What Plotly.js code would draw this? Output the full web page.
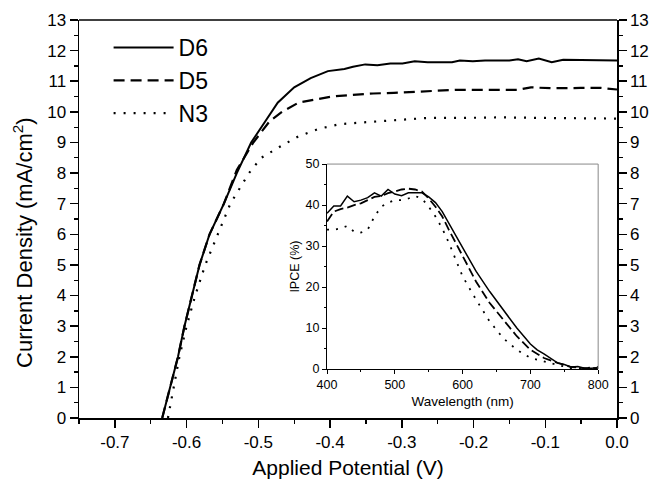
<!DOCTYPE html>
<html>
<head>
<meta charset="utf-8">
<script src="https://cdn.plot.ly/plotly-3.0.1.min.js"></script>
<style>html,body{margin:0;padding:0;background:#fff;}#chart{width:650px;height:485px;}</style>
</head>
<body>
<div id="chart"></div>
<script>
// Main J-V curves
const d6V = [-0.634,-0.623,-0.612,-0.603,-0.593,-0.582,-0.568,-0.548,-0.530,-0.510,-0.490,-0.473,-0.450,-0.427,-0.403,-0.380,-0.368,-0.351,-0.334,-0.316,-0.299,-0.282,-0.264,-0.247,-0.230,-0.219,-0.201,-0.184,-0.167,-0.150,-0.138,-0.126,-0.109,-0.091,-0.075,-0.058,-0.040,-0.020,0.000];
const d6J = [0,1,2,3,4,5,6,7,8,9,9.7,10.3,10.8,11.1,11.33,11.4,11.47,11.55,11.52,11.58,11.58,11.65,11.62,11.62,11.62,11.68,11.65,11.68,11.68,11.68,11.72,11.65,11.74,11.62,11.70,11.70,11.70,11.69,11.68];

const d5V = [-0.634,-0.623,-0.612,-0.603,-0.593,-0.582,-0.568,-0.548,-0.530,-0.507,-0.484,-0.467,-0.444,-0.421,-0.398,-0.369,-0.340,-0.311,-0.282,-0.253,-0.224,-0.195,-0.166,-0.138,-0.120,-0.091,-0.051,-0.022,0.000];
const d5J = [0,1,2,3,4,5,6,7,8.1,9.0,9.7,10.0,10.3,10.4,10.5,10.55,10.6,10.62,10.65,10.7,10.72,10.72,10.72,10.72,10.8,10.77,10.78,10.78,10.73];

const n3V = [-0.626,-0.618,-0.610,-0.600,-0.588,-0.574,-0.556,-0.539,-0.513,-0.496,-0.467,-0.444,-0.415,-0.386,-0.357,-0.311,-0.282,-0.265,-0.220,-0.160,-0.100,-0.050,0.000];
const n3J = [0,1,2,3,4,5,6,7,8,8.5,8.9,9.2,9.45,9.6,9.65,9.72,9.75,9.8,9.8,9.82,9.8,9.8,9.78];

// Inset IPCE
const wlD6 = [400,410,420,430,440,450,460,470,480,490,500,510,520,530,540,550,560,570,580,590,600,620,640,660,680,700,710,720,730,740,750,760,770,780,790,800];
const ipceD6 = [38,39.8,39.8,42.2,40.8,41.2,41.8,43,42.2,43.8,42.7,42.3,43,43,43,42,40.6,38.4,35.5,32.5,29.5,23.8,18.9,14.4,10,6.1,4.7,3.7,2.7,1.5,1.1,0.5,0.6,0.2,0.2,0.3];
const wlD5 = [400,410,420,430,440,450,460,470,480,490,500,510,520,530,540,550,560,570,580,600,620,640,660,680,700,720,740,760,780,800];
const ipceD5 = [36,38.4,39,39.4,40,40.4,41.2,42,42.2,42.9,43.3,43.8,44,43.8,43.3,41.6,39.6,37.2,33.9,27.4,21.3,16.1,12,8,4.7,2.7,1.5,0.5,0.2,0.2];
const wlN3 = [400,410,420,430,440,450,460,470,480,490,500,510,520,530,540,550,560,570,580,590,600,620,640,660,680,700,720,740,760,780,800];
const ipceN3 = [34,34,34.3,34.9,33.5,33.3,34,37.2,39.6,40.6,41.2,41.2,41.6,42.2,41.6,39.6,37.2,34.3,30.7,26.6,22.6,16.9,11.6,7.5,4.7,2.7,1.9,1.1,0.2,0.2,0.5];

const names = ['D6','D5','N3'];
const yTicks = [0,1,2,3,4,5,6,7,8,9,10,11,12,13];
const xTicks = [-0.7,-0.6,-0.5,-0.4,-0.3,-0.2,-0.1,0.0];
const xTickText = ['-0.7','-0.6','-0.5','-0.4','-0.3','-0.2','-0.1','0.0'];
const insetXTicks = [400,500,600,700,800];
const insetYTicks = [0,10,20,30,40,50];

const FONT = 'Arial, "Liberation Sans", sans-serif';

const traces = [
  {x:d6V, y:d6J, name:names[0], mode:'lines', line:{color:'#000', width:2, dash:'solid'}, xaxis:'x', yaxis:'y'},
  {x:d5V, y:d5J, name:names[1], mode:'lines', line:{color:'#000', width:2.2, dash:'11px,6px'}, xaxis:'x', yaxis:'y'},
  {x:n3V, y:n3J, name:names[2], mode:'lines', line:{color:'#000', width:2.2, dash:'2px,8px'}, xaxis:'x', yaxis:'y'},
  {x:wlD6, y:ipceD6, name:names[0], showlegend:false, mode:'lines', line:{color:'#000', width:1.5}, xaxis:'x2', yaxis:'y2'},
  {x:wlD5, y:ipceD5, name:names[1], showlegend:false, mode:'lines', line:{color:'#000', width:1.8, dash:'9px,4px'}, xaxis:'x2', yaxis:'y2'},
  {x:wlN3, y:ipceN3, name:names[2], showlegend:false, mode:'lines', line:{color:'#000', width:1.8, dash:'2px,7px'}, xaxis:'x2', yaxis:'y2'},
  {x:[-0.75], y:[0], mode:'markers', marker:{opacity:0}, showlegend:false, hoverinfo:'skip', xaxis:'x', yaxis:'y3'}
];

const tickFont = {family:FONT, size:17, color:'#000'};
const minorY = {dtick:0.5, tick0:0, ticks:'outside', ticklen:4, tickwidth:1.3, tickcolor:'#000', showgrid:false};

const layout = {
  width:650, height:485,
  margin:{l:79, r:33, t:20, b:67},
  paper_bgcolor:'#fff', plot_bgcolor:'#fff',
  font:{family:FONT, color:'#000'},
  showlegend:true,
  legend:{x:0.055, y:0.985, xanchor:'left', yanchor:'top', bgcolor:'rgba(0,0,0,0)',
          font:{family:FONT, size:23, color:'#000'}, itemwidth:60, tracegroupgap:0},
  xaxis:{range:[-0.75,0], tickvals:xTicks, ticktext:xTickText, ticks:'outside', ticklen:8, tickwidth:1.5,
         tickcolor:'#000', showline:true, linecolor:'#000', linewidth:1.5, showgrid:false, zeroline:false,
         tickfont:tickFont, mirror:false,
         minor:{dtick:0.05, tick0:0, ticks:'outside', ticklen:4, tickwidth:1.3, tickcolor:'#000', showgrid:false},
         title:{text:'Applied Potential (V)', font:{family:FONT, size:21, color:'#000'}, standoff:9}},
  yaxis:{range:[0,13], tickvals:yTicks, ticks:'outside', ticklen:8, tickwidth:1.5, tickcolor:'#000',
         showline:true, linecolor:'#000', linewidth:1.5, showgrid:false, zeroline:false, tickfont:tickFont,
         minor:minorY},
  yaxis3:{range:[0,13], overlaying:'y', side:'right', anchor:'x', tickvals:yTicks, ticks:'outside', ticklen:8, tickwidth:1.5,
          tickcolor:'#000', showline:true, linecolor:'#000', linewidth:1.5, showgrid:false, zeroline:false, tickfont:tickFont,
          minor:minorY},
  xaxis2:{domain:[0.461,0.965], anchor:'y2', range:[400,800], tickvals:insetXTicks, ticks:'outside', ticklen:4,
          tickwidth:1, tickcolor:'#000', showline:true, linecolor:'#000', linewidth:1, showgrid:false, zeroline:false,
          tickfont:{family:FONT, size:12.5, color:'#000'},
          minor:{dtick:50, ticks:'outside', ticklen:2, tickwidth:1, tickcolor:'#000', showgrid:false},
          title:{text:'Wavelength (nm)', font:{family:FONT, size:13.5, color:'#000'}, standoff:5}},
  yaxis2:{domain:[0.123,0.638], anchor:'x2', range:[0,50], tickvals:insetYTicks, ticks:'outside', ticklen:4,
          tickwidth:1, tickcolor:'#000', showline:true, linecolor:'#000', linewidth:1, showgrid:false, zeroline:false,
          tickfont:{family:FONT, size:12.5, color:'#000'},
          minor:{dtick:5, ticks:'outside', ticklen:2, tickwidth:1, tickcolor:'#000', showgrid:false},
          title:{text:'IPCE (%)', font:{family:FONT, size:12.5, color:'#000'}, standoff:3}},
  annotations:[
    {text:'Current Density (mA/cm<sup>2</sup>)', textangle:-90, xref:'paper', yref:'paper',
     x:-0.104, y:0.44, xanchor:'center', yanchor:'middle', showarrow:false,
     font:{family:FONT, size:22, color:'#000'}}
  ],
  shapes:[
    {type:'line', xref:'paper', yref:'paper', x0:0, x1:1, y0:1, y1:1, line:{color:'#000', width:1.5}},
    {type:'line', xref:'x2 domain', yref:'y2 domain', x0:0, x1:1, y0:1, y1:1, line:{color:'#888', width:1}},
    {type:'line', xref:'x2 domain', yref:'y2 domain', x0:1, x1:1, y0:0, y1:1, line:{color:'#888', width:1}}
  ]
};

Plotly.newPlot('chart', traces, layout, {displayModeBar:false, staticPlot:true});
</script>
</body>
</html>
